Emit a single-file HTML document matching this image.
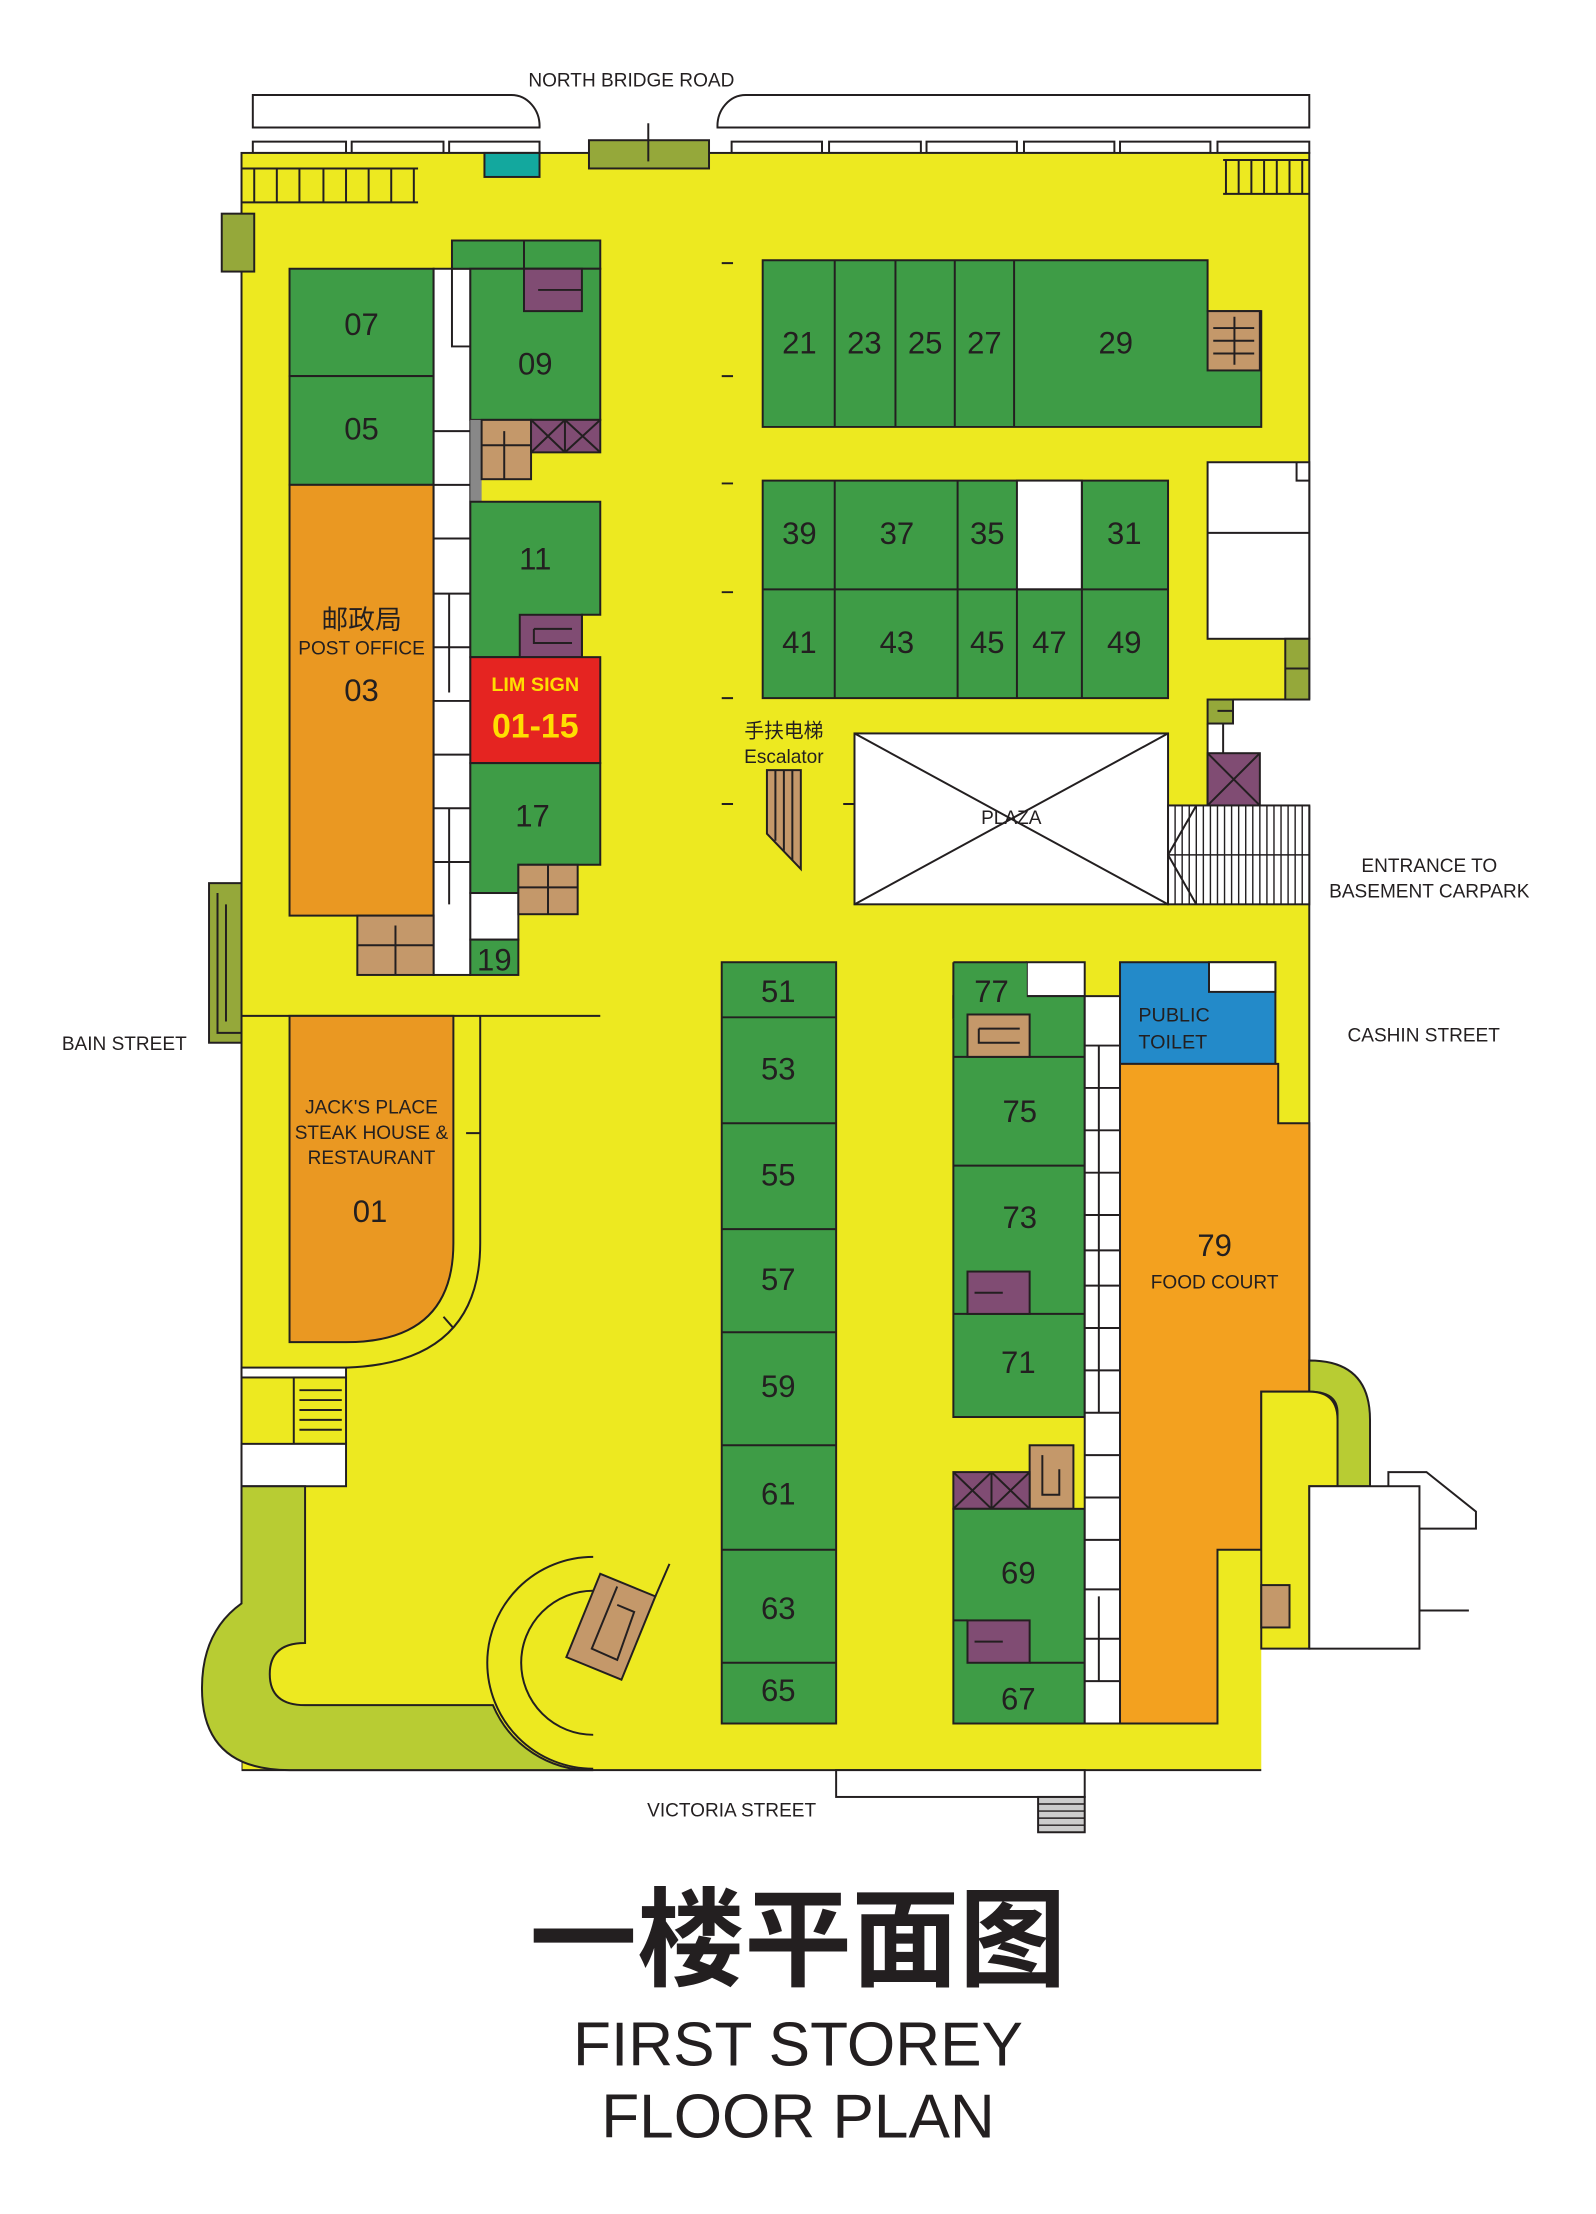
<!DOCTYPE html>
<html><head><meta charset="utf-8"><style>
html,body{margin:0;padding:0;background:#fff;}
svg{display:block;}
text{font-family:"Liberation Sans Narrow","Liberation Sans","Noto Sans CJK SC",sans-serif;fill:#231f20;}
.n{font-size:22px;text-anchor:middle;}
.s{font-size:13.5px;text-anchor:middle;}
</style></head><body>
<svg width="1596" height="2214" viewBox="0 0 1130 1567" xmlns="http://www.w3.org/2000/svg">
<g stroke="#231f20" stroke-width="1.4">
<path d="M179,67 H362 A20,22 0 0 1 382,90 H179 Z" fill="#fff"/>
<path d="M528,67 H927 V90 H508 A20,22 0 0 1 528,67 Z" fill="#fff"/>
<g fill="#fff">
<rect x="179" y="100" width="66" height="8"/><rect x="249" y="100" width="65" height="8"/><rect x="318" y="100" width="64" height="8"/>
<rect x="518" y="100" width="64" height="8"/><rect x="587" y="100" width="65" height="8"/><rect x="656" y="100" width="64" height="8"/>
<rect x="725" y="100" width="64" height="8"/><rect x="793" y="100" width="64" height="8"/><rect x="862" y="100" width="65" height="8"/>
</g>
<rect x="171" y="108" width="756" height="1145" fill="#ede920"/>
<rect x="873" y="495" width="55" height="18" fill="#fff" stroke="none"/>
<rect x="855" y="512" width="73" height="58" fill="#fff" stroke="none"/>
<rect x="893" y="1167" width="36" height="88" fill="#fff" stroke="none"/>
<path d="M927,495 H873 M855,512 V570" fill="none"/>
<rect x="417" y="99" width="85" height="20" fill="#95a83a"/>
<line x1="459" y1="87" x2="459" y2="114"/>
<rect x="343" y="108" width="39" height="17" fill="#13a89e"/>
<rect x="157" y="151" width="23" height="41" fill="#95a83a"/>
<path d="M171,119 H296 M171,143 H296 M180,119 V143 M196,119 V143 M212,119 V143 M229,119 V143 M245,119 V143 M261,119 V143 M277,119 V143 M293,119 V143" fill="none"/>
<path d="M866,113 H927 M866,137 H927 M868,113 V137 M877,113 V137 M886,113 V137 M895,113 V137 M904,113 V137 M913,113 V137 M922,113 V137" fill="none"/>
<rect x="205" y="190" width="102" height="76" fill="#3e9c46"/>
<rect x="205" y="266" width="102" height="77" fill="#3e9c46"/>
<rect x="205" y="343" width="102" height="305" fill="#ea9822"/>
<rect x="307" y="190" width="26" height="500" fill="#fff"/>
<path d="M307,305 H333 M307,343 H333 M307,381 H333 M307,420 H333 M307,458 H333 M307,496 H333 M307,534 H333 M307,572 H333 M307,610 H333 M320,190 V245 H333 M318,420 V490 M318,572 V640" fill="none"/>
<rect x="253" y="648" width="54" height="42" fill="#c4986a"/>
<path d="M253,669 H307 M280,655 V690" fill="none"/>
<rect x="333" y="632" width="34" height="33" fill="#fff"/>
<rect x="333" y="665" width="34" height="25" fill="#3e9c46"/>
<rect x="320" y="170" width="105" height="20" fill="#3e9c46"/>
<rect x="333" y="190" width="92" height="107" fill="#3e9c46"/>
<path d="M371,170 V190" fill="none"/>
<rect x="371" y="190" width="41" height="30" fill="#804c73"/>
<path d="M381,205 H412" fill="none"/>
<rect x="333" y="297" width="8" height="58" fill="#888" stroke="none"/>
<rect x="341" y="297" width="35" height="42" fill="#c4986a"/>
<path d="M341,315 H376 M357,305 V339" fill="none"/>
<rect x="376" y="297" width="49" height="23" fill="#804c73"/>
<path d="M376,297 L400,320 M400,297 L376,320 M400,297 L425,320 M425,297 L400,320 M400,297 V320" fill="none"/>
<path d="M333,355 H425 V435 H412 V465 H333 Z" fill="#3e9c46"/>
<rect x="368" y="435" width="44" height="30" fill="#804c73"/>
<path d="M378,445 H405 M378,445 V455 H405" fill="none"/>
<rect x="333" y="465" width="92" height="75" fill="#e52421"/>
<path d="M333,540 H425 V612 H367 V632 H333 Z" fill="#3e9c46"/>
<rect x="367" y="612" width="42" height="35" fill="#c4986a"/>
<path d="M367,628 H409 M388,612 V647" fill="none"/>
<line x1="171" y1="719" x2="425" y2="719"/>
<path d="M205,719 H321 V880 Q321,950 245,950 H205 Z" fill="#ea9822"/>
<path d="M340,719 V880 Q340,965 245,968" fill="none"/>
<path d="M330,802 H340 M314,932 L321,940" fill="none"/>
<rect x="171" y="968" width="74" height="7" fill="#fff"/>
<rect x="208" y="975" width="37" height="47" fill="#ede920"/>
<path d="M212,984 H242 M212,991 H242 M212,998 H242 M212,1005 H242 M212,1012 H242" fill="none"/>
<rect x="171" y="1022" width="74" height="30" fill="#fff"/>
<rect x="148" y="625" width="23" height="113" fill="#95a83a"/>
<path d="M154,632 V731 H171 M160,640 V723" fill="none"/>
<!-- bottom-left green band -->
<rect x="140" y="1135" width="31" height="120" fill="#fff" stroke="none"/>
<path d="M171,1052 H216 V1163 Q191,1163 191,1185 Q191,1207 216,1207 H349 A75,75 0 0 0 420,1253 H205 Q143,1253 143,1195 Q143,1155 171,1135 Z" fill="#b8cc33"/>
<path d="M420,1102 A75,75 0 0 0 420,1252" fill="none"/>
<path d="M420,1126 A51,51 0 0 0 420,1228" fill="none"/>
<polygon points="425,1114 464,1130 440,1189 401,1173" fill="#c4986a"/>
<path d="M437,1123 L419,1167 L437,1175 L449,1141 L437,1136" fill="none"/>
<line x1="464" y1="1130" x2="474" y2="1107"/>
<path d="M511,186 H519 M511,266 H519 M511,342 H519 M511,419 H519 M511,494 H519 M511,569 H519 M597,569 H605" fill="none"/>
<path d="M543,545 H567 V615 L543,590 Z" fill="#c4986a"/>
<path d="M549,545 V595 M555,545 V602 M561,545 V609" fill="none"/>
<path d="M540,184 H855 V220 H893 V302 H540 Z" fill="#3e9c46"/>
<path d="M591,184 V302 M634,184 V302 M676,184 V302 M718,184 V302" fill="none"/>
<rect x="855" y="220" width="37" height="42" fill="#c4986a"/>
<path d="M859,232 H888 M859,241 H888 M859,250 H888 M874,224 V258" fill="none"/>
<rect x="540" y="340" width="287" height="154" fill="#3e9c46"/>
<rect x="720" y="340" width="46" height="77" fill="#fff"/>
<path d="M540,417 H827 M591,340 V494 M678,340 V494 M720,417 V494 M766,340 V494" fill="none"/>
<rect x="855" y="327" width="72" height="125" fill="#fff"/>
<path d="M855,377 H927 M918,327 V340 H927" fill="none"/>
<rect x="910" y="452" width="17" height="43" fill="#95a83a"/>
<line x1="910" y1="473" x2="927" y2="473"/>
<rect x="855" y="495" width="18" height="17" fill="#95a83a"/>
<path d="M866,512 V533 M862,503 H873" fill="none"/>
<rect x="855" y="533" width="37" height="37" fill="#804c73"/>
<path d="M855,533 L892,570 M892,533 L855,570" fill="none"/>
<rect x="605" y="519" width="222" height="121" fill="#fff"/>
<path d="M605,519 L827,640 M827,519 L605,640" fill="none"/>
<rect x="827" y="570" width="100" height="70" fill="#fff"/>
<path d="M832,570V640M837,570V640M842,570V640M847,570V640M852,570V640M857,570V640M862,570V640M867,570V640M872,570V640M877,570V640M882,570V640M887,570V640M892,570V640M897,570V640M902,570V640M907,570V640M912,570V640M917,570V640M922,570V640M827,605H927" fill="none" stroke-width="1"/>
<path d="M847,570 L827,605 L847,640" fill="none"/>
<rect x="511" y="681" width="81" height="539" fill="#3e9c46"/>
<path d="M511,720H592M511,795H592M511,870H592M511,943H592M511,1023H592M511,1097H592M511,1177H592" fill="none"/>
<rect x="727" y="681" width="41" height="24" fill="#fff"/>
<rect x="675" y="705" width="93" height="298" fill="#3e9c46"/>
<rect x="675" y="681" width="52" height="40" fill="#3e9c46" stroke="none"/>
<path d="M675,681 H727 M675,681 V721" fill="none"/>
<path d="M675,748 H768 M675,825 H768 M675,930 H768" fill="none"/>
<rect x="685" y="718" width="44" height="30" fill="#c4986a"/>
<path d="M693,728 H722 M693,728 V738 H722" fill="none"/>
<rect x="685" y="900" width="44" height="30" fill="#804c73"/>
<path d="M690,915 H710" fill="none"/>
<rect x="729" y="1023" width="31" height="45" fill="#c4986a"/>
<path d="M738,1030 V1058 H750 V1040" fill="none"/>
<rect x="675" y="1042" width="54" height="26" fill="#804c73"/>
<path d="M675,1042 L702,1068 M702,1042 L675,1068 M702,1042 L729,1068 M729,1042 L702,1068 M702,1042 V1068" fill="none"/>
<rect x="675" y="1068" width="93" height="152" fill="#3e9c46"/>
<path d="M675,1147 H685 M729,1177 H768" fill="none"/>
<rect x="685" y="1147" width="44" height="30" fill="#804c73"/>
<path d="M690,1162 H710" fill="none"/>
<rect x="768" y="705" width="25" height="515" fill="#fff"/>
<path d="M768,740H793M768,770H793M768,800H793M768,830H793M768,860H793M768,885H793M768,910H793M768,940H793M768,970H793M768,1000H793M768,1030H793M768,1060H793M768,1090H793M768,1125H793M768,1160H793M768,1190H793M778,740V1000M778,1130V1190" fill="none"/>
<rect x="793" y="681" width="110" height="72" fill="#238ac9"/>
<rect x="856" y="681" width="47" height="21" fill="#fff"/>
<path d="M793,753 H905 V795 H927 V985 H893 V1097 H862 V1220 H793 Z" fill="#f3a11f"/>
<path d="M927,963 Q970,963 970,1005 V1052 H947 V1000 Q947,985 927,985 Z" fill="#b8cc33"/>
<path d="M893,985 H927 Q947,985 947,1005 V1052 H927 V1167 H893 Z" fill="#ede920"/>
<rect x="893" y="1122" width="20" height="30" fill="#c4986a"/>
<path d="M983,1052 V1042 H1010 L1045,1070 V1082 H1005" fill="#fff"/>
<rect x="927" y="1052" width="78" height="115" fill="#fff"/>
<line x1="1005" y1="1140" x2="1040" y2="1140"/>
<rect x="592" y="1253" width="176" height="19" fill="#fff"/>
<rect x="735" y="1272" width="33" height="25" fill="#ccc"/>
<path d="M735,1277H768M735,1282H768M735,1287H768M735,1292H768" fill="none" stroke-width="1"/>
</g>
<g>
<text class="n" x="256" y="237">07</text><text class="n" x="256" y="311">05</text>
<text x="256" y="445" style="font-size:19px;text-anchor:middle">邮政局</text>
<text class="s" x="256" y="463">POST OFFICE</text>
<text class="n" x="256" y="496">03</text>
<text class="n" x="379" y="265">09</text><text class="n" x="379" y="403">11</text>
<text x="379" y="489" style="font-size:14px;font-weight:bold;fill:#ffde00;text-anchor:middle;font-family:'Liberation Sans',sans-serif">LIM SIGN</text>
<text x="379" y="522" style="font-size:24px;font-weight:bold;fill:#ffde00;text-anchor:middle;font-family:'Liberation Sans',sans-serif">01-15</text>
<text class="n" x="377" y="585">17</text><text class="n" x="350" y="687">19</text>
<text class="s" x="263" y="788">JACK'S PLACE</text><text class="s" x="263" y="806">STEAK HOUSE &amp;</text><text class="s" x="263" y="824">RESTAURANT</text>
<text class="n" x="262" y="865">01</text>
<text class="n" x="566" y="250">21</text><text class="n" x="612" y="250">23</text><text class="n" x="655" y="250">25</text><text class="n" x="697" y="250">27</text><text class="n" x="790" y="250">29</text>
<text class="n" x="566" y="385">39</text><text class="n" x="635" y="385">37</text><text class="n" x="699" y="385">35</text><text class="n" x="796" y="385">31</text>
<text class="n" x="566" y="462">41</text><text class="n" x="635" y="462">43</text><text class="n" x="699" y="462">45</text><text class="n" x="743" y="462">47</text><text class="n" x="796" y="462">49</text>
<text x="555" y="522" style="font-size:14px;text-anchor:middle">手扶电梯</text>
<text class="s" x="555" y="540">Escalator</text>
<text class="s" x="716" y="583">PLAZA</text>
<text class="n" x="551" y="709">51</text><text class="n" x="551" y="764">53</text><text class="n" x="551" y="839">55</text><text class="n" x="551" y="913">57</text><text class="n" x="551" y="989">59</text><text class="n" x="551" y="1065">61</text><text class="n" x="551" y="1146">63</text><text class="n" x="551" y="1204">65</text>
<text class="n" x="702" y="709">77</text><text class="n" x="722" y="794">75</text><text class="n" x="722" y="869">73</text><text class="n" x="721" y="972">71</text><text class="n" x="721" y="1121">69</text><text class="n" x="721" y="1210">67</text>
<text x="806" y="723" style="font-size:14px">PUBLIC</text><text x="806" y="742" style="font-size:14px">TOILET</text>
<text class="n" x="860" y="889">79</text><text class="s" x="860" y="912">FOOD COURT</text>
<text class="s" x="447" y="61">NORTH BRIDGE ROAD</text>
<text class="s" x="88" y="743">BAIN STREET</text>
<text class="s" x="1012" y="617">ENTRANCE TO</text><text class="s" x="1012" y="635">BASEMENT CARPARK</text>
<text class="s" x="1008" y="737">CASHIN STREET</text>
<text class="s" x="518" y="1286">VICTORIA STREET</text>
<text x="565" y="1400" style="font-size:76px;font-weight:bold;text-anchor:middle;font-family:'Noto Sans CJK SC',sans-serif">一楼平面图</text>
<text x="565" y="1462" style="font-size:44px;text-anchor:middle;font-family:'Liberation Sans',sans-serif">FIRST STOREY</text>
<text x="565" y="1513" style="font-size:44px;text-anchor:middle;font-family:'Liberation Sans',sans-serif">FLOOR PLAN</text>
</g>
</svg>
</body></html>
